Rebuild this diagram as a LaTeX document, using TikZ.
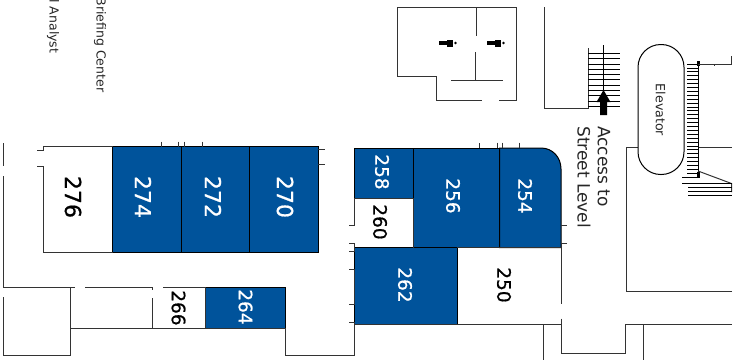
\documentclass[tikz,border=0pt]{standalone}
\usepackage{fontspec}
\usepackage{xcolor}
\setmainfont{DejaVu Sans}
\newfontfamily\roomfont[FakeBold=0.7]{DejaVu Sans}
\usetikzlibrary{arrows.meta}
\definecolor{roomblue}{HTML}{00539B}
\definecolor{wallgray}{HTML}{333333}
\tikzset{
	wall/.style = {draw=wallgray, line width=1pt},
	room/.style = {fill=roomblue, draw=black, line width=1pt},
	bigno/.style = {rotate=-90, font=\roomfont\fontsize{22}{22}\selectfont, inner sep=0pt},
	midno/.style = {rotate=-90, font=\roomfont\fontsize{18.5}{18.5}\selectfont, inner sep=0pt},
	tag/.style = {rotate=-90, inner sep=0pt, text=black!85},
}
\begin{document}
\begin{tikzpicture}[x=1pt,y=-1pt]
	\useasboundingbox (0,0) rectangle (735,360);

	% Blue rooms
	\draw[room] (112.5,146.5) rectangle (181,252.5);
	\draw[room] (181,146.5) rectangle (249.5,252.5);
	\draw[room] (249.5,146.5) rectangle (318,252.5);
	\draw[room] (205,287) rectangle (285.5,328);
	\draw[room] (354,148) rectangle (413,198);
	\draw[room] (413,148) rectangle (499.5,247.5);
	\draw[room] (354,247.5) rectangle (457,324);
	\draw[room] (499.5,148) -- (541,148) .. controls (552.6,148) and (561,157.4) .. (561,169) -- (561,247.5) -- (499.5,247.5) -- cycle;

	% Upper left wing
	\draw[wall] (3,143) -- (3,166);
	\draw[wall] (3,176) -- (3,287);
	\draw[wall] (37,150) -- (43,150) -- (43,146.5) -- (112.5,146.5);
	\draw[wall] (37,166) -- (43,166) -- (43,252.5) -- (112.5,252.5);
	\foreach \x in {161,178,184,202}
		{   \draw[wall] (\x,141.5) -- (\x,146.5);
		}
	\draw[wall] (318,149) -- (325,149);
	\draw[wall] (318,164) -- (325,164);

	% Lower left wing
	\draw[wall] (3,297) -- (3,355.5) -- (70.5,355.5) -- (70.5,287) -- (3,287);
	\draw[wall] (70.5,287) -- (75,287);
	\draw[wall] (85,287) -- (152,287) -- (152,290);
	\draw[wall] (152,298) -- (152,328);
	\draw[wall] (70.5,328) -- (285.5,328);
	\draw[wall] (163,287) -- (205,287);
	\draw[wall] (205,287) -- (205,328);
	\draw[wall] (285.5,328) -- (285.5,355.5) -- (354,355.5) -- (354,322) -- (349,322);

	% Left side of the middle block
	\draw[wall] (349,304) -- (354,304) -- (354,269) -- (349,269);
	\draw[wall] (349,251) -- (354,251) -- (354,243) -- (349,243);
	\draw[wall] (349,225) -- (354,225) -- (354,198) -- (413,198) -- (413,247.5);
	\draw[wall] (479,143) -- (479,148);
	\foreach \x in {497.5,502,519.5}
		{   \draw[wall] (\x,142.5) -- (\x,148);
		}
	\draw[wall] (457,247.5) -- (561,247.5);
	\draw[wall] (354,324) -- (561,324);

	% Corridor end and lower right
	\draw[wall] (561,225) -- (567,225);
	\draw[wall] (567,243.5) -- (561,243.5) -- (561,304);
	\draw[wall] (561,318.5) -- (561,353) -- (625,353) -- (625,324) -- (732,324);
	\draw[wall] (643,324) -- (643,360);
	\draw[wall] (543,324) -- (543,360);
	\draw[wall] (732,291) -- (626,291) -- (626,147) -- (640,147);
	\draw[wall] (698,147.5) -- (732,147.5);

	% Restrooms
	\draw[wall] (481.5,100.5) -- (436,100.5) -- (436,76.5) -- (397,76.5) -- (397,7) -- (516.5,7) -- (516.5,100.5) -- (499,100.5);
	\draw[wall] (476.5,7) -- (476.5,36);
	\draw[wall] (475,52) -- (475,80.5);
	\draw[wall] (451,80.5) -- (503,80.5);
	\foreach \x in {0,48}
		{   \fill[black] (\x+439,41) rectangle (\x+449,45);
			\fill[black] (\x+447,39.5) rectangle (\x+453,46.5);
			\fill[black] (\x+455.5,43) circle (1.3);
		}

	% Stairs to street level
	\draw[wall] (544,7) -- (544,108) -- (588,108) -- (588,48);
	\foreach \y in {53.3,58.6,...,107.5}
		{   \draw[black, line width=.8pt] (588,\y) -- (620,\y);
		}
	\draw[black, line width=.8pt] (603.5,45) -- (603.5,92);
	\fill[black] (603.5,90) -- (610.5,102) -- (607,102) -- (607,115) -- (600,115) -- (600,102) -- (596.5,102) -- cycle;

	% Elevator stairs
	\foreach \y in {64,67.9,...,176}
		{   \draw[black, line width=.8pt] (687,\y) -- (698,\y);
		}
	\draw[black, line width=1pt] (698,62) -- (698,177);
	\draw[black, line width=3pt] (698,61) -- (698,66);
	\draw[black, line width=3pt] (698,172) -- (698,178);
	\draw[wall] (698,64) -- (732,64);
	\draw[wall] (731.5,56) -- (731.5,64);
	\draw[wall] (714,64) -- (714,66);
	\draw[wall] (698,171) -- (731.5,183.5) -- (731.5,192);
	\draw[black, line width=.8pt] (682,177) -- (700,177);
	\draw[black, line width=.8pt] (682,183) -- (732,183);
	\foreach \y in {187,191,195}
		{   \draw[black, line width=.8pt] (688,\y) -- (732,\y);
		}

	% Elevator
	\node[draw=black, fill=white, line width=1pt, rounded corners=22.7pt, minimum width=46pt, minimum height=130pt, inner sep=0pt] (elevator) at (661,109.5) {};
	\node[tag, font=\fontsize{12.6}{12.6}\selectfont] (elevatorlabel) at (660.5,110) {Elevator};

	% Room numbers
	\node[bigno] (no276) at (73,197) {276};
	\node[bigno, white] (no274) at (143,197) {274};
	\node[bigno, white] (no272) at (213,197) {272};
	\node[bigno, white] (no270) at (285,197) {270};
	\node[midno, white] (no258) at (382,172) {258};
	\node[midno] (no260) at (380,222) {260};
	\node[midno, white] (no256) at (453,196) {256};
	\node[midno, white] (no254) at (525,196) {254};
	\node[midno, white] (no262) at (405,285) {262};
	\node[midno] (no250) at (504,285) {250};
	\node[midno] (no266) at (178.5,308) {266};
	\node[midno, white] (no264) at (245.5,307) {264};

	% Labels
	\node[tag, anchor=west, font=\fontsize{17}{17}\selectfont] (accessto) at (604,126) {Access to};
	\node[tag, anchor=west, font=\fontsize{17}{17}\selectfont] (streetlevel) at (584,126) {Street Level};
	\node[tag, anchor=east, font=\fontsize{12.5}{12.5}\selectfont] (briefing) at (100,92.5) {Briefing Center};
	\node[tag, anchor=east, font=\fontsize{12.5}{12.5}\selectfont] (analyst) at (53,53.5) {l Analyst};
\end{tikzpicture}
\end{document}
